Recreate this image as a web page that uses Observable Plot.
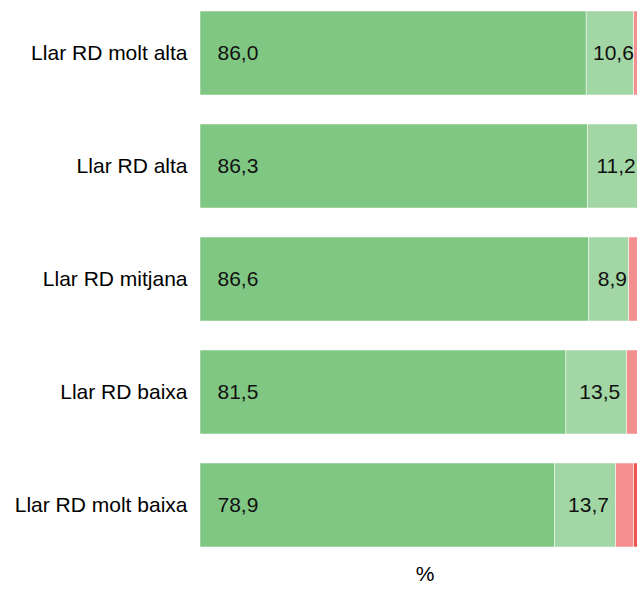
<!DOCTYPE html>
<html>
<head>
<meta charset="utf-8">
<script src="https://cdn.jsdelivr.net/npm/d3@7"></script>
<script src="https://cdn.jsdelivr.net/npm/@observablehq/plot@0.6"></script>
<style>
  html, body { margin: 0; padding: 0; background: white; overflow: hidden; }
  #chart { width: 637px; height: 590px; overflow: hidden; }
  #chart svg { max-width: none; }
</style>
</head>
<body>
<div id="chart"></div>
<script>
const categories = ["Llar RD molt alta", "Llar RD alta", "Llar RD mitjana", "Llar RD baixa", "Llar RD molt baixa"];
const seriesNames = ["Molt bona", "Bona", "Dolenta", "Molt dolenta"];
const serie1 = [86.0, 86.3, 86.6, 81.5, 78.9];
const serie2 = [10.6, 11.2, 8.9, 13.5, 13.7];
const serie3 = [2.6, 1.9, 3.3, 3.7, 4.0];
const serie4 = [0.8, 0.6, 1.2, 1.3, 3.4];
const colors = ["#81c784", "#a2d6a4", "#f48f8f", "#ef5350"];

const allSeries = [serie1, serie2, serie3, serie4];
const data = [];
categories.forEach((c, i) => {
  allSeries.forEach((s, j) => data.push({cat: c, series: seriesNames[j], value: s[i]}));
});
const fmt = v => d3.format(".1f")(v).replace(".", ",");

const plot = Plot.plot({
  width: 650,
  height: 590,
  marginLeft: 200,
  marginRight: 1,
  marginTop: 0,
  marginBottom: 32,
  style: {fontFamily: "'Liberation Sans', Arial, sans-serif", fontSize: "21px", color: "#000", maxWidth: "none"},
  x: {domain: [0, 100]},
  y: {domain: categories, paddingInner: 0.253, paddingOuter: 0.082},
  color: {domain: seriesNames, range: colors},
  marks: [
    Plot.barX(data, Plot.stackX({x: "value", y: "cat", fill: "series", order: seriesNames, stroke: "white", strokeWidth: 0.5})),
    Plot.text(data.filter(d => d.series === seriesNames[0]), {x: 0, y: "cat", text: d => fmt(d.value), textAnchor: "start", dx: 17, fill: "#111", fontSize: 21}),
    Plot.text(data, Plot.stackX({x: "value", y: "cat", z: "series", order: seriesNames, text: d => d.series === seriesNames[1] ? fmt(d.value) : null, dx: 3, fill: "#111", fontSize: 21})),
    Plot.axisY({tickSize: 0, tickPadding: 13, label: null, fontSize: 21}),
    Plot.axisX({ticks: [], label: "%", labelAnchor: "center", labelArrow: "none", labelOffset: 22, fontSize: 21})
  ]
});
document.getElementById("chart").append(plot);
</script>
</body>
</html>
